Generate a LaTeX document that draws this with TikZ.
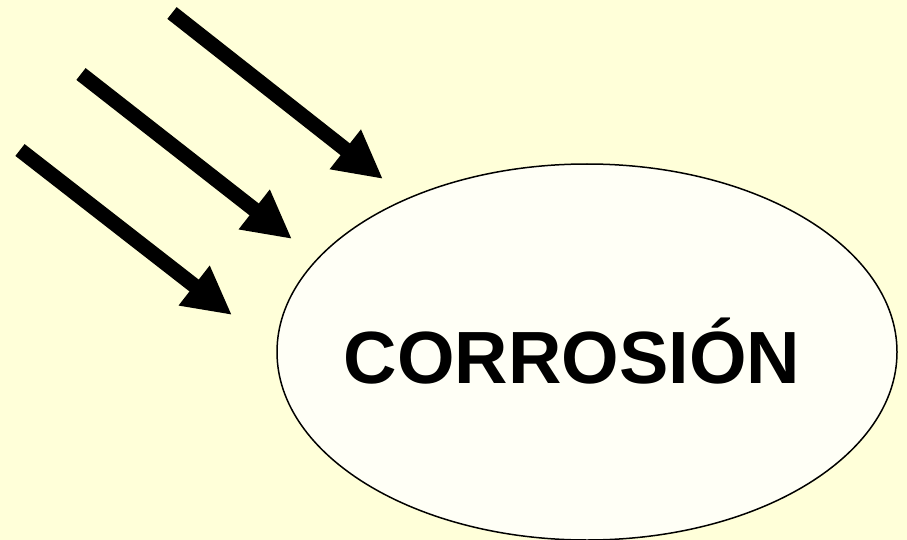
\documentclass[tikz,border=0pt]{standalone}
\usepackage{fontspec}
\setmainfont{Liberation Sans}
\usetikzlibrary{shapes.geometric,arrows.meta}
\definecolor{bgyellow}{RGB}{255,255,217}
\definecolor{ellfill}{RGB}{255,255,246}
\tikzset{
  bigarrow/.style={line width=15pt, -{Triangle[length=48pt,width=47pt]}, black},
  blob/.style={ellipse, draw=black, line width=1.5pt, fill=ellfill, minimum width=620pt, minimum height=376pt, inner sep=0pt},
  bigtext/.style={font=\fontsize{74}{80}\selectfont\bfseries, inner sep=0pt, anchor=base}
}
\begin{document}
\begin{tikzpicture}[x=1pt,y=-1pt]
\fill[bgyellow] (0,0) rectangle (907,540);
\useasboundingbox (0,0) rectangle (907,540);
\node[blob] (corr) at (587,352) {};
\node[bigtext] (word) at (572,383) {CORROSIÓN};
\coordinate (t1) at (172,13);
\coordinate (h1) at (383,179);
\coordinate (t2) at (81,74);
\coordinate (h2) at (292,239);
\coordinate (t3) at (20,150);
\coordinate (h3) at (232,315);
\draw[bigarrow] (t1) -- (h1);
\draw[bigarrow] (t2) -- (h2);
\draw[bigarrow] (t3) -- (h3);
\end{tikzpicture}
\end{document}
